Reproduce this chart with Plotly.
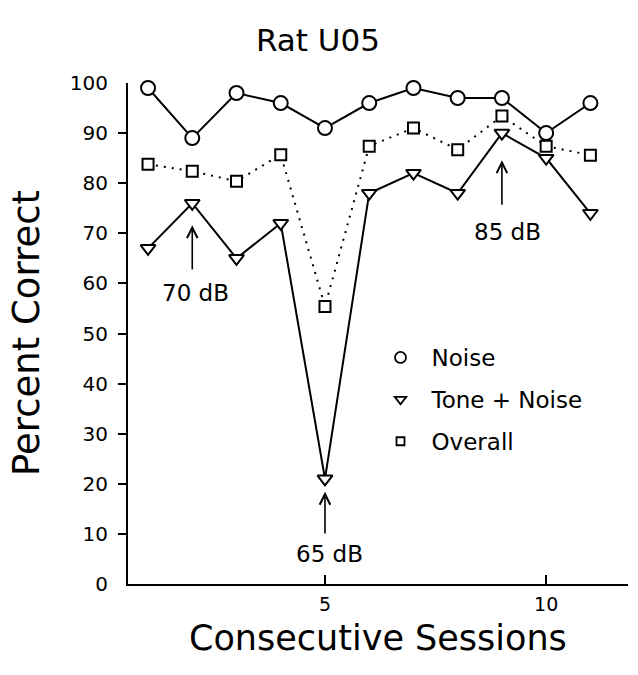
import plotly.graph_objects as go

# Session-by-session percent correct for rat U05
sessions = [1, 2, 3, 4, 5, 6, 7, 8, 9, 10, 11]
noise = [99, 89, 98, 96, 91, 96, 99, 97, 97, 90, 96]
tone_noise = [67, 76, 65, 72, 21, 78, 82, 78, 90, 85, 74]
overall = [83.8, 82.4, 80.4, 85.7, 55.4, 87.4, 91.0, 86.7, 93.4, 87.4, 85.6]

# Tone level changes marked with arrows: (session, arrow tip, arrow tail, label, label x, label y)
level_marks = [
    (2, 71.6, 62.5, "70 dB", 2.08, 58.0),
    (5, 18.4, 9.8, "65 dB", 5.1, 6.0),
    (9, 84.6, 75.4, "85 dB", 9.12, 70.3),
]

y_label_vals = [0, 10, 20, 30, 40, 50, 60, 70, 80, 90, 100]
x_tick_vals = [5, 10]

FONT = "DejaVu Sans"
BLACK = "black"

fig = go.Figure()

series = [
    ("Noise", noise, "circle", 14, "solid"),
    ("Tone + Noise", tone_noise, "triangle-down", 13, "solid"),
    ("Overall", overall, "square", 11, "2px,6px"),
]

for name, vals, symbol, size, dash in series:
    fig.add_trace(go.Scatter(
        x=sessions, y=vals, mode="lines+markers", name=name,
        showlegend=False, cliponaxis=False,
        line=dict(color=BLACK, width=2, dash=dash),
        marker=dict(symbol=symbol, size=size, color="white",
                    line=dict(color=BLACK, width=2)),
    ))

# Legend entries show the symbol only
for i, (name, vals, symbol, size, dash) in enumerate(series):
    fig.add_trace(go.Scatter(
        x=[None], y=[None], mode="markers", name=name,
        legendgroup=f"g{i}",
        marker=dict(symbol=symbol, size=size - 3, color="white",
                    line=dict(color=BLACK, width=1.8)),
    ))

for sess, tip, tail, label, lx, ly in level_marks:
    fig.add_annotation(
        x=sess, y=tip, ax=sess, ay=tail, xref="x", yref="y",
        axref="x", ayref="y", text="", showarrow=True,
        arrowhead=5, arrowsize=1.3, arrowwidth=1.6, arrowcolor=BLACK,
    )
    fig.add_annotation(
        x=lx, y=ly, xref="x", yref="y", text=label, showarrow=False,
        font=dict(family=FONT, size=23, color=BLACK),
        xanchor="center", yanchor="middle",
    )

# Titles
fig.add_annotation(
    x=0.38, y=1.086, xref="paper", yref="paper", text="Rat U05",
    showarrow=False, font=dict(family=FONT, size=31, color=BLACK),
    xanchor="center", yanchor="middle",
)
fig.add_annotation(
    x=0.5, y=-0.107, xref="paper", yref="paper", text="Consecutive Sessions",
    showarrow=False, font=dict(family=FONT, size=35, color=BLACK),
    xanchor="center", yanchor="middle",
)
fig.add_annotation(
    x=-0.203, y=0.5, xref="paper", yref="paper", text="Percent Correct",
    showarrow=False, textangle=-90,
    font=dict(family=FONT, size=37, color=BLACK),
    xanchor="center", yanchor="middle",
)

fig.update_layout(
    width=638, height=675,
    margin=dict(l=128, r=10, t=83, b=91),
    paper_bgcolor="white", plot_bgcolor="white",
    font=dict(family=FONT, color=BLACK),
    xaxis=dict(
        range=[0.547, 11.85], showgrid=False, zeroline=False,
        showline=True, linecolor=BLACK, linewidth=2,
        tickvals=x_tick_vals, ticks="inside", ticklen=9, tickwidth=2,
        tickcolor=BLACK, ticklabelstandoff=2,
        tickfont=dict(family=FONT, size=19, color=BLACK),
    ),
    yaxis=dict(
        range=[0, 100], showgrid=False, zeroline=False,
        showline=True, linecolor=BLACK, linewidth=2,
        tickvals=y_label_vals, ticks="", ticklabelstandoff=14,
        tickfont=dict(family=FONT, size=20, color=BLACK),
    ),
    # outward tick marks for 10-90
    yaxis2=dict(
        range=[0, 100], overlaying="y", side="left", showgrid=False,
        zeroline=False, showline=False, showticklabels=False,
        tickvals=y_label_vals[1:-1], ticks="outside", ticklen=9,
        tickwidth=2, tickcolor=BLACK,
    ),
    # inward tick mark at the top of the axis
    yaxis3=dict(
        range=[0, 100], overlaying="y", side="left", showgrid=False,
        zeroline=False, showline=False, showticklabels=False,
        tickvals=[100], ticks="inside", ticklen=9,
        tickwidth=2, tickcolor=BLACK,
    ),
    legend=dict(
        x=0.483, y=0.495, xanchor="left", yanchor="top",
        font=dict(family=FONT, size=23, color=BLACK),
        bgcolor="rgba(0,0,0,0)", borderwidth=0,
        traceorder="grouped", tracegroupgap=9, itemwidth=52,
    ),
)

# dummy traces so the extra tick axes are drawn
fig.add_trace(go.Scatter(x=[None], y=[None], yaxis="y2", showlegend=False, hoverinfo="skip"))
fig.add_trace(go.Scatter(x=[None], y=[None], yaxis="y3", showlegend=False, hoverinfo="skip"))

fig.write_html("out.html")
